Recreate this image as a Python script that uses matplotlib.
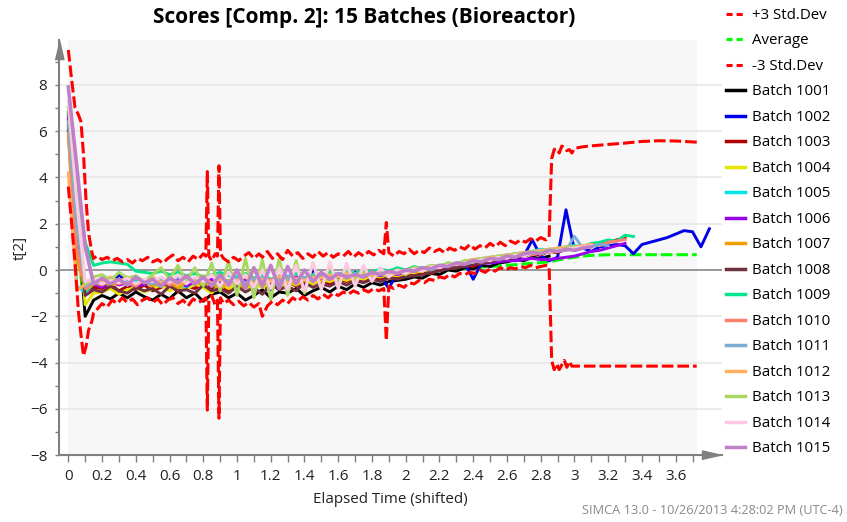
import numpy as np
import matplotlib.pyplot as plt
from matplotlib.patches import Rectangle
from matplotlib.lines import Line2D

plt.rcParams['font.family'] = ['Open Sans', 'DejaVu Sans']

# batch scores are sampled every 0.05 of elapsed time
t_grid = np.arange(77) * 0.05

b1001 = [6.8, 2.5, -2.0, -1.3, -1.1, -1.25, -1.0, -1.2, -0.95, -1.15,
         -1.3, -1.05, -1.25, -0.9, -1.2, -1.0, -1.35, -1.05, -0.95, -1.2,
         -1.0, -1.3, -1.1, -0.85, -1.2, -0.95, -1.0, -0.8, -1.1, -0.9,
         -0.75, -0.95, -0.7, -0.85, -0.6, -0.75, -0.55, -0.65, -0.5, -0.45,
         -0.4, -0.3, -0.35, -0.15, -0.2, 0.0, -0.05, 0.1, 0.05, 0.2,
         0.15, 0.3, 0.35, 0.45, 0.4, 0.55, 0.5, 0.6]
b1002 = [6.0, 1.5, -0.8, -0.6, -0.5, -0.7, -0.2, -0.55, -0.65, -0.45,
         -0.7, -0.5, -0.6, -0.8, -0.4, -0.65, -0.55, -0.75, -0.35, -0.6,
         -0.5, -0.7, -0.4, -0.6, -0.85, -0.3, -0.55, -0.45, -0.7, 0.0,
         -0.35, -0.5, -0.2, -0.4, -0.1, -0.3, -0.15, -0.25, -0.8, -0.1,
         -0.2, 0.0, -0.1, 0.1, 0.05, 0.2, 0.15, 0.3, -0.4, 0.3,
         0.4, 0.35, 0.5, 0.45, 0.6, 1.3, 0.6, 0.4, 0.55, 2.6,
         0.85, 0.95, 0.8, 1.0, 1.05, 1.1, 1.05, 0.7, 1.1, 1.2,
         1.3, 1.4, 1.55, 1.7, 1.65, 1.0, 1.78]
b1003 = [6.3, 2.0, -0.9, -0.75, -0.8, -0.6, -0.9, -0.7, -0.85, -0.65,
         -0.9, -0.75, -0.6, -0.95, -0.7, -0.8, -0.6, -0.85, -0.7, -0.9,
         -0.65, -0.8, -0.55, -0.75, -0.6, -0.85, -0.5, -0.7, -0.55, -0.6,
         -0.45, -0.6, -0.4, -0.5, -0.35, -0.45, -0.3, -0.4, -0.25, -0.3,
         -0.2, -0.25, -0.1, -0.15, 0.0, 0.05, 0.1, 0.2, 0.15, 0.3,
         0.35, 0.45, 0.4, 0.55, 0.6, 0.7, 0.65, 0.8, 0.75, 0.9,
         0.95, 1.0, 1.05, 1.15, 1.2, 1.3, 1.38]
b1004 = [6.5, 2.5, -1.5, -1.0, -0.95, -0.8, -1.05, -0.85, -0.75, -0.95,
         -0.8, -0.65, -0.9, -0.7, -0.85, -0.6, -0.75, -1.0, -0.6, -0.8,
         -0.7, -0.9, -0.55, -0.75, -0.6, -0.8, -0.5, -0.65, -0.45, -0.6,
         -0.4, -0.5, -0.35, -0.45, -0.3, -0.4, -0.25, -0.3, -0.2, -0.25,
         -0.15, -0.1, -0.05, 0.05, 0.1, 0.15, 0.2, 0.3, 0.35, 0.4,
         0.45, 0.55, 0.5, 0.65, 0.7, 0.75, 0.8, 0.85, 0.9, 0.95,
         1.0]
b1005 = [6.0, -0.7, -0.95, -0.6, -0.55, -0.7, -0.5, -0.65, -0.45, -0.6,
         -0.55, -0.7, -0.5, -0.6, -0.75, -0.45, -0.6, -0.5, -0.7, -0.55,
         -0.5, -0.65, -0.45, -0.55, -0.4, -0.6, -0.45, -0.5, -0.35, -0.45,
         -0.3, -0.4, -0.25, -0.35, -0.2, -0.3, -0.15, -0.25, -0.1, -0.15,
         -0.05, 0.0, 0.05, 0.1, 0.2, 0.25, 0.3, 0.35, 0.45, 0.5,
         0.55, 0.6, 0.65, 0.7, 0.75, 0.8, 0.9, 0.85, 0.95, 1.0,
         1.05]
b1006 = [6.6, 2.0, -0.7, -0.6, -0.75, -0.5, -0.65, -0.55, -0.7, -0.6,
         -0.5, -0.65, -0.55, -0.45, -0.7, -0.5, -0.6, -0.4, -0.55, -0.65,
         -0.5, -0.45, -0.6, -0.35, -0.5, -0.4, -0.55, -0.3, -0.45, -0.35,
         -0.4, -0.25, -0.35, -0.3, -0.2, -0.3, -0.15, -0.25, -0.1, -0.2,
         -0.1, -0.05, 0.0, 0.05, 0.1, 0.1, 0.2, 0.15, 0.25, 0.3,
         0.3, 0.35, 0.4, 0.4, 0.45, 0.5, 0.45, 0.45, 0.5, 0.55,
         0.6, 0.7, 0.8, 0.85, 0.95, 1.05, 1.15]
b1007 = [5.8, 0.5, -0.85, -0.6, -0.4, -0.7, -0.5, -0.3, -0.65, -0.45,
         -0.7, -0.4, -0.6, -0.8, -0.5, -0.35, -0.7, -0.55, -0.9, -0.45,
         -0.6, -0.75, -0.4, -0.65, -0.5, -0.3, -0.7, -0.45, -0.55, -0.35,
         -0.5, -0.3, -0.45, -0.25, -0.4, -0.2, -0.35, -0.15, -0.3, -0.1,
         -0.15, 0.0, -0.05, 0.15, 0.1, 0.25, 0.2, 0.35, 0.4, 0.45,
         0.5, 0.55, 0.6, 0.7, 0.65, 0.8, 0.75, 0.9, 0.85, 0.95,
         1.0, 1.05, 1.1]
b1008 = [6.2, 2.0, -1.1, -0.85, -0.95, -0.7, -0.9, -1.0, -0.75, -0.9,
         -0.8, -1.05, -0.7, -0.9, -0.85, -1.0, -0.65, -0.9, -0.8, -1.0,
         -0.7, -0.95, -0.75, -1.05, -0.6, -0.85, -0.7, -0.9, -0.55, -0.75,
         -0.6, -0.7, -0.5, -0.65, -0.45, -0.55, -0.4, -0.5, -0.35, -0.4,
         -0.3, -0.25, -0.2, -0.1, -0.05, 0.05, 0.1, 0.15, 0.25, 0.3,
         0.35, 0.45, 0.5, 0.55, 0.65, 0.7, 0.75, 0.8, 0.9, 0.95,
         1.0]
b1009 = [7.0, 4.0, 1.2, 0.2, 0.3, 0.35, 0.3, 0.25, -0.05, -0.1,
         -0.15, -0.05, -0.2, -0.1, -0.25, -0.15, -0.3, -0.2, -0.1, -0.25,
         -0.3, -0.15, -0.35, -0.2, -0.4, -0.25, -0.3, -0.15, -0.35, -0.2,
         -0.25, -0.1, -0.2, -0.05, -0.15, 0.0, -0.1, 0.05, -0.05, 0.1,
         0.0, 0.15, 0.05, 0.2, 0.15, 0.3, 0.25, 0.4, 0.35, 0.45,
         0.5, 0.55, 0.6, 0.7, 0.65, 0.8, 0.75, 0.85, 0.9, 0.95,
         1.05, 1.0, 1.15, 1.2, 1.3, 1.25, 1.5, 1.45]
b1010 = [5.9, 1.0, -0.8, -0.55, -0.65, -0.45, -0.6, -0.5, -0.7, -0.4,
         -0.55, -0.45, -0.65, -0.5, -0.35, -0.6, -0.45, -0.55, -0.4, -0.5,
         -0.45, -0.6, -0.35, -0.5, -0.4, -0.55, -0.3, -0.45, -0.35, -0.4,
         -0.3, -0.4, -0.25, -0.35, -0.2, -0.3, -0.15, -0.2, -0.1, -0.15,
         -0.05, 0.0, 0.1, 0.05, 0.2, 0.15, 0.3, 0.25, 0.4, 0.35,
         0.5, 0.45, 0.6, 0.55, 0.7, 0.65, 0.8, 0.75, 0.9, 0.85,
         0.95, 1.0, 1.1, 1.05, 1.2, 1.25, 1.32]
b1011 = [6.4, 2.0, -0.7, -0.5, -0.6, -0.4, -0.55, -0.45, -0.35, -0.5,
         -0.6, -0.4, -0.5, -0.3, -0.55, -0.45, -0.35, -0.6, -0.4, -0.5,
         -0.35, -0.55, -0.4, -0.3, -0.5, -0.45, -0.25, -0.4, -0.3, -0.45,
         -0.25, -0.35, -0.2, -0.3, -0.15, -0.25, -0.1, -0.2, -0.05, -0.1,
         0.0, 0.05, 0.1, 0.0, 0.15, 0.2, 0.3, 0.25, 0.35, 0.4,
         0.5, 0.45, 0.55, 0.65, 0.6, 0.75, 0.7, 0.8, 0.9, 0.85,
         1.45, 0.95, 1.0, 1.1, 1.05]
b1012 = [4.2, -0.9, -0.6, -0.4, -0.55, -0.3, -0.5, -0.35, -0.6, -0.45,
         -0.3, -0.55, -0.4, -0.65, -0.35, -0.5, -0.25, -0.6, -0.4, -0.7,
         -0.45, -0.3, -0.6, -0.4, -0.5, -0.25, -0.55, -0.35, -0.45, -0.3,
         -0.35, -0.2, -0.3, -0.15, -0.25, -0.1, -0.2, -0.05, -0.15, 0.0,
         -0.05, 0.1, 0.05, 0.2, 0.15, 0.3, 0.25, 0.4, 0.45, 0.5,
         0.55, 0.6, 0.65, 0.7, 0.75, 0.8, 0.85, 0.9, 0.95, 1.0,
         1.0, 1.05, 1.1]
b1013 = [7.0, 3.0, -0.6, -0.3, -0.2, -0.45, -0.1, -0.35, -0.25, -0.5,
         -0.2, 0.1, -0.4, 0.2, -0.5, 0.1, -0.7, 0.3, -0.9, 0.4,
         -1.1, 0.5, -1.2, 0.45, -1.3, 0.5, -1.1, 0.4, -1.0, 0.3,
         -0.8, 0.2, -0.6, 0.1, -0.5, 0.0, -0.4, -0.1, -0.3, 0.0,
         -0.2, 0.1, 0.0, 0.2, 0.1, 0.3, 0.25, 0.4, 0.35, 0.5,
         0.45, 0.6, 0.55, 0.7, 0.65, 0.8, 0.75, 0.9, 0.85, 0.95,
         1.0]
b1014 = [7.3, 3.0, -0.5, -0.4, -0.6, -0.45, -0.55, -0.35, -0.6, -0.4,
         -0.5, -0.3, -0.55, -0.2, -0.6, -0.3, -0.5, -0.2, -0.7, -0.1,
         -0.6, -0.2, -0.75, 0.0, -0.8, 0.1, -0.85, 0.2, -0.9, 0.3,
         -0.85, 0.35, -0.8, 0.3, -0.7, 0.2, -0.5, 0.1, -0.3, 0.0,
         -0.15, 0.05, -0.05, 0.15, 0.1, 0.2, 0.25, 0.3, 0.35, 0.45,
         0.4, 0.55, 0.5, 0.65, 0.6, 0.75, 0.7, 0.8, 0.85, 0.9,
         0.95, 1.0, 1.05]
b1015 = [7.9, 4.5, 1.0, -0.6, -0.35, -0.6, -0.4, -0.65, -0.3, -0.55,
         -0.4, -0.7, -0.35, -0.55, -0.25, -0.6, -0.3, -0.7, -0.2, -0.65,
         0.0, -0.8, 0.1, -0.7, 0.2, -0.8, 0.15, -0.6, 0.0, -0.5,
         -0.1, -0.4, -0.15, -0.3, -0.2, -0.3, -0.1, -0.2, -0.05, -0.15,
         0.0, -0.05, 0.1, 0.05, 0.2, 0.15, 0.3, 0.25, 0.4, 0.35,
         0.5, 0.45, 0.6, 0.55, 0.7, 0.75, 0.7, 0.85, 0.8, 0.9,
         0.85, 0.95, 1.0]

batch_names = ['Batch 1001', 'Batch 1002', 'Batch 1003', 'Batch 1004', 'Batch 1005',
               'Batch 1006', 'Batch 1007', 'Batch 1008', 'Batch 1009', 'Batch 1010',
               'Batch 1011', 'Batch 1012', 'Batch 1013', 'Batch 1014', 'Batch 1015']
batch_values = [b1001, b1002, b1003, b1004, b1005, b1006, b1007, b1008,
                b1009, b1010, b1011, b1012, b1013, b1014, b1015]
batch_colors = ['#000000', '#0000e6', '#b00000', '#e6e600', '#00e6e6',
                '#9900ee', '#f0a000', '#703040', '#00e68c', '#ff7f6e',
                '#7aaed6', '#ffb060', '#a8d860', '#ffc8e4', '#c080c8']

# control limits (+/- 3 std.dev) over elapsed time
lim_t = [0.0, 0.02, 0.04, 0.06, 0.075, 0.09, 0.105, 0.12, 0.14, 0.15,
         0.17, 0.2, 0.23, 0.26, 0.29, 0.32, 0.35, 0.38, 0.41, 0.44,
         0.47, 0.5, 0.53, 0.56, 0.59, 0.62, 0.65, 0.68, 0.71, 0.74,
         0.77, 0.8, 0.815, 0.824, 0.833, 0.85, 0.87, 0.884, 0.893, 0.902,
         0.92, 0.95, 0.98, 1.01, 1.04, 1.07, 1.1, 1.13, 1.15, 1.18,
         1.21, 1.24, 1.27, 1.3, 1.33, 1.36, 1.39, 1.42, 1.45, 1.48,
         1.51, 1.54, 1.57, 1.6, 1.63, 1.66, 1.69, 1.72, 1.75, 1.78,
         1.81, 1.84, 1.87, 1.885, 1.9, 1.93, 1.96, 1.99, 2.02, 2.05,
         2.08, 2.11, 2.14, 2.17, 2.2, 2.23, 2.26, 2.29, 2.32, 2.35,
         2.38, 2.41, 2.44, 2.47, 2.5, 2.53, 2.56, 2.59, 2.62, 2.65,
         2.68, 2.71, 2.74, 2.77, 2.8, 2.83, 2.85, 2.865, 2.88, 2.895,
         2.91, 2.925, 2.94, 2.955, 2.97, 2.985, 3.0, 3.05, 3.1, 3.2,
         3.3, 3.4, 3.5, 3.6, 3.725]
lim_upper = [9.5, 8.2, 7.0, 6.7, 6.4, 5.0, 3.0, 1.6, 0.75, 0.5,
             0.6, 0.45, 0.55, 0.4, 0.5, 0.35, 0.45, 0.3, 0.5, 0.4,
             0.55, 0.35, 0.45, 0.3, 0.5, 0.65, 0.4, 0.55, 0.35, 0.6,
             0.45, 0.7, 0.6, 4.25, 0.6, 0.4, 0.7, 0.6, 4.5, 0.7,
             0.5, 0.35, 0.55, 0.4, 0.6, 0.75, 0.5, 0.7, 0.55, 0.8,
             0.5, 0.7, 0.45, 0.85, 0.6, 0.75, 0.5, 0.7, 0.55, 0.8,
             0.6, 0.75, 0.55, 0.7, 0.6, 0.8, 0.55, 0.75, 0.6, 0.8,
             0.65, 0.85, 0.7, 2.05, 0.75, 0.6, 0.8, 0.7, 0.9, 0.7,
             0.85, 0.75, 0.95, 0.8, 0.9, 0.75, 0.95, 0.85, 1.0, 0.9,
             1.1, 0.9, 1.05, 0.95, 1.15, 1.0, 1.2, 1.05, 1.25, 1.15,
             1.3, 1.2, 1.35, 1.25, 1.4, 1.3, 1.4, 4.8, 5.2, 5.25,
             5.05, 5.35, 5.3, 5.15, 5.2, 5.05, 5.25, 5.32, 5.36, 5.42,
             5.48, 5.55, 5.58, 5.57, 5.52]
lim_lower = [3.6, 2.0, 0.3, -1.8, -2.8, -3.7, -3.3, -2.6, -2.2, -1.85,
             -1.7, -1.45, -1.6, -1.3, -1.45, -1.2, -1.4, -1.25, -1.5, -1.3,
             -1.2, -1.4, -1.25, -1.5, -1.3, -1.2, -1.45, -1.3, -1.55, -1.25,
             -1.4, -1.3, -1.2, -6.05, -1.3, -1.1, -1.5, -1.3, -6.4, -1.2,
             -1.45, -1.3, -1.5, -1.35, -1.55, -1.4, -1.6, -1.45, -2.0, -1.55,
             -1.35, -1.5, -1.3, -1.45, -1.2, -1.35, -1.15, -1.3, -1.1, -1.25,
             -1.05, -1.2, -1.0, -1.1, -0.95, -1.05, -0.9, -1.0, -0.85, -0.95,
             -0.8, -0.9, -0.8, -3.05, -0.7, -0.8, -0.65, -0.75, -0.55, -0.6,
             -0.45, -0.55, -0.4, -0.45, -0.3, -0.35, -0.2, -0.3, -0.15, -0.2,
             -0.1, -0.15, 0.0, -0.1, 0.05, -0.05, 0.1, 0.0, 0.1, 0.05,
             0.15, 0.1, 0.2, 0.1, 0.15, 0.2, 0.15, -3.9, -4.3, -4.05,
             -4.3, -4.1, -3.9, -4.2, -3.95, -4.15, -4.15, -4.15, -4.15, -4.15,
             -4.15, -4.15, -4.15, -4.15, -4.15]

avg_t = [0.0, 0.04, 0.08, 0.12, 0.3, 0.6, 1.0, 1.4, 1.8, 2.2,
         2.6, 2.85, 2.9, 2.95, 3.0, 3.05, 3.1, 3.2, 3.725]
avg_vals = [6.5, 3.0, -0.7, -0.6, -0.55, -0.5, -0.45, -0.35, -0.2, 0.0,
            0.2, 0.35, 0.43, 0.5, 0.55, 0.6, 0.63, 0.66, 0.66]

fig = plt.figure(figsize=(8.47, 5.22), dpi=100)
ax = fig.add_axes([58.7 / 847, 1 - 455.3 / 522, 663 / 847, 415.3 / 522])
ax.set_xlim(-0.057, 3.873)
ax.set_ylim(-8, 9.93)

# light background + grid
ax.add_patch(Rectangle((0, -8), 3.725, 18.5, color='#f7f7f7', zorder=0, lw=0))
for gy in [-6, -4, -2, 2, 4, 6, 8]:
    ax.axhline(gy, color='#e8e8e8', lw=1.2, zorder=0.5)
ax.axhline(0, color='#888888', lw=1.2, zorder=0.6)

dash = (3.8, 1.3)
ax.plot(avg_t, avg_vals, color='#00ff00', lw=2.2, dashes=dash, zorder=1)
for vals, c in zip(batch_values, batch_colors):
    lw = 2.6 if c == '#c080c8' else 2.1
    ax.plot(t_grid[:len(vals)], vals, color=c, lw=lw, zorder=2)
ax.plot(lim_t, lim_upper, color='#ff0000', lw=2.2, dashes=dash, zorder=3)
ax.plot(lim_t, lim_lower, color='#ff0000', lw=2.2, dashes=dash, zorder=3)

# axes with arrow heads
for s in ['top', 'right']:
    ax.spines[s].set_visible(False)
for s in ['left', 'bottom']:
    ax.spines[s].set_color('#808080')
    ax.spines[s].set_linewidth(1.5)
ax.plot([0], [1], transform=ax.transAxes, marker=[(-4.5, -19), (4.5, -19), (0, 0)],
        ms=27.4, color='#808080', clip_on=False, zorder=5)
ax.plot([1], [0], transform=ax.transAxes, marker=[(-20, -4.5), (-20, 4.5), (0, 0)],
        ms=28.8, color='#808080', clip_on=False, zorder=5)

xt = np.arange(0, 3.7, 0.2)
ax.set_xticks(xt)
ax.set_xticklabels([f'{v:g}' for v in np.round(xt, 1)])
ax.set_xticks(np.arange(0, 3.75, 0.1), minor=True)
ax.set_yticks(range(-8, 9, 2))
ax.set_yticks(range(-8, 10), minor=True)
ax.tick_params(axis='y', which='both', length=3.2, width=1, color='#808080',
               pad=5, labelsize=11, labelcolor='#222222')
ax.tick_params(axis='x', which='both', length=4.8, width=1, color='#808080',
               pad=5, labelsize=11, labelcolor='#222222')
ax.set_xlabel('Elapsed Time (shifted)', fontsize=10.9, labelpad=6, color='#222222')
ax.set_ylabel('t[2]', fontsize=10.9, labelpad=1.5, color='#222222')

fig.text(0.4304, 0.967, 'Scores [Comp. 2]: 15 Batches (Bioreactor)',
         ha='center', va='center', fontsize=15, fontweight='bold')
fig.text(843 / 847, 1 - 511 / 522, 'SIMCA 13.0 - 10/26/2013 4:28:02 PM (UTC-4)',
         ha='right', va='center', color='#8a8a8a', fontsize=9.2)

handles = [Line2D([], [], color='#ff0000', lw=2.2, dashes=(2.0, 1.3)),
           Line2D([], [], color='#00ff00', lw=2.2, dashes=(2.0, 1.3)),
           Line2D([], [], color='#ff0000', lw=2.2, dashes=(2.0, 1.3))]
handles += [Line2D([], [], color=c, lw=2.5) for c in batch_colors]
labels = ['+3 Std.Dev', 'Average', '-3 Std.Dev'] + batch_names
fig.legend(handles, labels, loc='upper left', bbox_to_anchor=(726 / 847, 0.9847),
           frameon=False, fontsize=10.8, handlelength=1.27, handletextpad=0.47,
           labelspacing=0.70, borderpad=0, borderaxespad=0)

fig.savefig('out.png', dpi=100)
